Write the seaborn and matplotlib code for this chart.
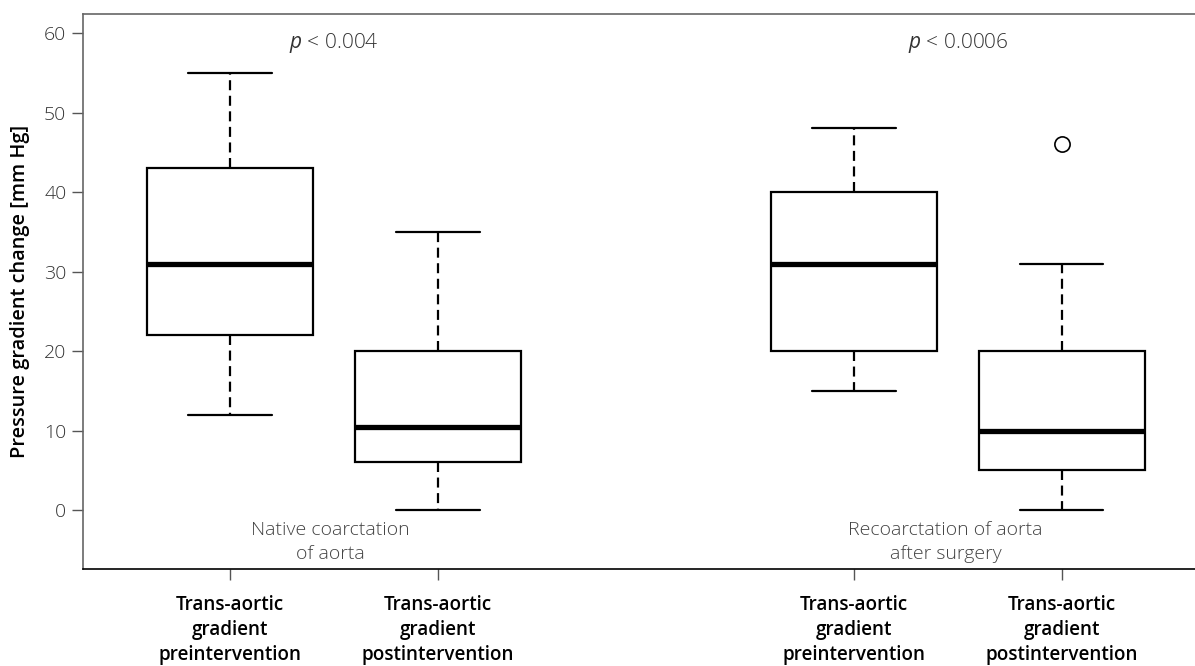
import matplotlib
matplotlib.use("Agg")
import matplotlib.pyplot as plt
import seaborn as sns
import pandas as pd

# ---- data ----
positions = [1, 2, 4, 5]
whisker_low = [12, 0, 15, 0]
q1 = [22, 6, 20, 5]
median = [31, 10.5, 31, 10]
q3 = [43, 20, 40, 20]
whisker_high = [55, 35, 48, 31]
outlier_pos = [5]
outlier_val = [46]
tick_labels = ["Trans-aortic\ngradient\npreintervention",
               "Trans-aortic\ngradient\npostintervention",
               "Trans-aortic\ngradient\npreintervention",
               "Trans-aortic\ngradient\npostintervention"]
group_labels = ["Native coarctation\nof aorta", "Recoarctation of aorta\nafter surgery"]
group_label_x = [1.48, 4.44]
p_labels = [r"$p$ < 0.004", r"$p$ < 0.0006"]
p_label_x = [1.5, 4.5]
y_ticks = [0, 10, 20, 30, 40, 50, 60]

rows = []
for p, a, b, c, d, e in zip(positions, whisker_low, q1, median, q3, whisker_high):
    for v in (a, b, c, d, e):
        rows.append({"pos": p, "value": v})
df = pd.DataFrame(rows)

sns.set_theme(style="ticks")
plt.rcParams["font.family"] = ["Open Sans", "DejaVu Sans"]
plt.rcParams["mathtext.fontset"] = "custom"
plt.rcParams["mathtext.rm"] = "Open Sans"
plt.rcParams["mathtext.it"] = "Open Sans:italic"

fig = plt.figure(figsize=(11.95, 6.66), dpi=100)
ax = fig.add_axes([0.0695, 0.1456, 0.9305, 0.979 - 0.1456])

sns.boxplot(data=df, x="pos", y="value", native_scale=True, whis=(0, 100),
            width=0.8, showfliers=False, color="white", linecolor="black",
            linewidth=1.6,
            boxprops=dict(facecolor="white", edgecolor="black", linewidth=1.6),
            whiskerprops=dict(linestyle=(0, (4.5, 2.5)), linewidth=1.6, color="black"),
            capprops=dict(linewidth=1.6, color="black"),
            medianprops=dict(linewidth=3.8, color="black"),
            ax=ax)

sns.scatterplot(x=outlier_pos, y=outlier_val, marker="o", s=120,
                facecolor="white", edgecolor="black", linewidth=1.2, ax=ax,
                zorder=5)

ax.set_xlim(0.293, 5.64)
ax.set_ylim(-7.4, 62.4)
ax.set_yticks(y_ticks)
ax.set_yticklabels([str(t) for t in y_ticks], fontsize=14, color="#333333",
                   fontweight="light")
ax.set_xticks(positions)
ax.set_xticklabels(tick_labels, fontsize=13.6, fontweight="semibold", color="black",
                   linespacing=1.33)
ax.tick_params(axis="y", length=8, width=1, color="#555555", pad=4)
ax.tick_params(axis="x", length=8, width=1, color="#555555", pad=11)

ax.set_xlabel("")
ax.set_ylabel("Pressure gradient change [mm Hg]", fontsize=14.4,
              fontweight="semibold", color="black", labelpad=10)

ax.spines["right"].set_visible(False)
ax.spines["top"].set_visible(True)
ax.spines["top"].set_color("#666666")
ax.spines["left"].set_color("#666666")
ax.spines["bottom"].set_color("black")
for s in ("top", "left", "bottom"):
    ax.spines[s].set_linewidth(1.2)

for x, t in zip(p_label_x, p_labels):
    ax.text(x, 58.8, t, ha="center", va="center", fontsize=15, color="#333333",
            fontweight="light")
for x, t in zip(group_label_x, group_labels):
    ax.text(x, -4.0, t, ha="center", va="center", fontsize=14, color="#444444",
            fontweight="light", linespacing=1.45)

fig.savefig("out.png", dpi=100)
